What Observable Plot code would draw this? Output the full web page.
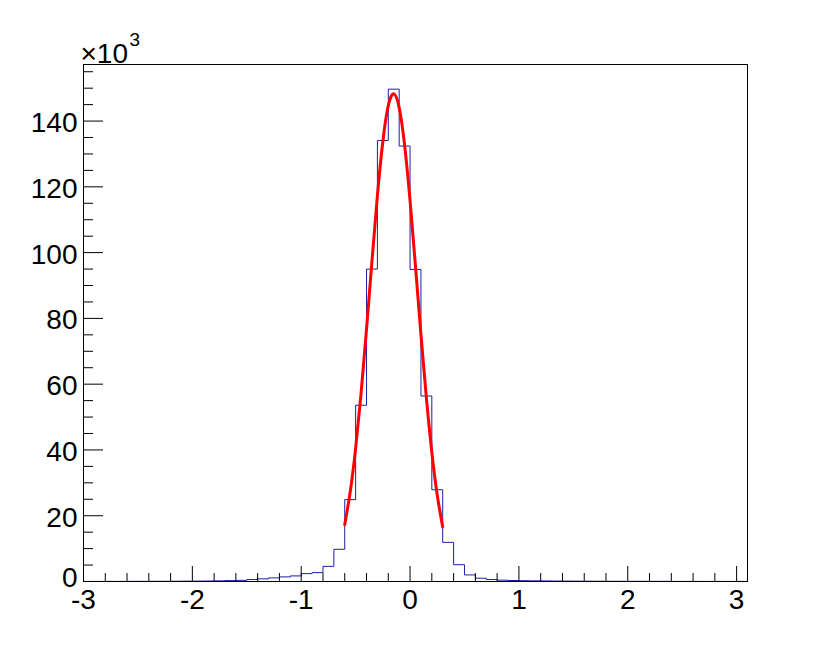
<!DOCTYPE html>
<html>
<head>
<meta charset="utf-8">
<script src="https://cdn.jsdelivr.net/npm/d3@7"></script>
<script src="https://cdn.jsdelivr.net/npm/@observablehq/plot@0.6"></script>
<style>
  body { margin: 0; background: #ffffff; }
  #chart svg { display: block; }
</style>
</head>
<body>
<div id="chart"></div>
<script>
// ---- data (counts in thousands) ----
const binStart = [
  -3.0, -2.9, -2.8, -2.7, -2.6, -2.5, -2.4, -2.3, -2.2, -2.1,
  -2.0, -1.9, -1.8, -1.7, -1.6, -1.5, -1.4, -1.3, -1.2, -1.1,
  -1.0, -0.9, -0.8, -0.7, -0.6, -0.5, -0.4, -0.3, -0.2, -0.1,
   0.0,  0.1,  0.2,  0.3,  0.4,  0.5,  0.6,  0.7,  0.8,  0.9,
   1.0,  1.1,  1.2,  1.3,  1.4,  1.5,  1.6,  1.7,  1.8,  1.9,
   2.0,  2.1,  2.2,  2.3,  2.4,  2.5,  2.6,  2.7,  2.8,  2.9,
   3.0
];
const binCounts = [
  0.02, 0.02, 0.03, 0.03, 0.04, 0.05, 0.06, 0.07, 0.08, 0.10,
  0.12, 0.15, 0.20, 0.28, 0.35, 0.60, 0.80, 1.10, 1.40, 1.70,
  2.40, 2.70, 4.60, 9.80, 24.9, 53.6, 95.0, 134.1, 149.7, 132.4,
  94.9, 56.4, 27.9, 11.9, 5.10, 2.00, 1.00, 0.60, 0.40, 0.30,
  0.25, 0.20, 0.17, 0.14, 0.12, 0.10, 0.09, 0.08, 0.07, 0.06,
  0.05, 0.05, 0.04, 0.04, 0.03, 0.03, 0.03, 0.02, 0.02, 0.02,
  0.02
];
const lastBinEnd = 3.1;

// red fit curve
const fitX = [-0.60, -0.55, -0.50, -0.45, -0.40, -0.35, -0.30, -0.25, -0.20, -0.15,
              -0.10, -0.05, 0.00, 0.05, 0.10, 0.15, 0.20, 0.25, 0.30];
const fitY = [17.3, 27.2, 40.5, 57.2, 76.7, 97.4, 117.3, 133.8, 144.7, 148.3,
              144.1, 132.7, 115.8, 95.8, 75.1, 55.8, 39.3, 26.2, 16.6];

const xDomain = [-3, 3.1];
const yDomain = [0, 157.2];
const xMajorTicks = [-3, -2, -1, 0, 1, 2, 3];
const xMinorTicks = [-2.8, -2.6, -2.4, -2.2, -1.8, -1.6, -1.4, -1.2, -0.8, -0.6, -0.4, -0.2,
                     0.2, 0.4, 0.6, 0.8, 1.2, 1.4, 1.6, 1.8, 2.2, 2.4, 2.6, 2.8];
const yMajorTicks = [0, 20, 40, 60, 80, 100, 120, 140];
const yMinorTicks = [5, 10, 15, 25, 30, 35, 45, 50, 55, 65, 70, 75, 85, 90, 95,
                     105, 110, 115, 125, 130, 135, 145, 150, 155];
const exponentBase = "×10";
const exponentPower = "3";

// ---- layout ----
const W = 830, H = 646;
const mL = 83, mR = 83, mT = 64, mB = 65;
const plotW = W - mL - mR, plotH = H - mT - mB;

const steps = binStart.map((x, i) => ({x, y: binCounts[i]}));
steps.push({x: lastBinEnd, y: binCounts[binCounts.length - 1]});
const fit = fitX.map((x, i) => ({x, y: fitY[i]}));

const chart = Plot.plot({
  width: W,
  height: H,
  marginLeft: mL,
  marginRight: mR,
  marginTop: mT,
  marginBottom: mB,
  style: {fontFamily: "'Liberation Sans', Arial, sans-serif", background: "#ffffff", color: "#000"},
  x: {domain: xDomain, label: null},
  y: {domain: yDomain, label: null},
  marks: [
    Plot.line(steps, {x: "x", y: "y", curve: "step-after", stroke: "#1e1ea8", strokeWidth: 1}),
    Plot.line(fit, {x: "x", y: "y", curve: "natural", stroke: "#ff0000", strokeWidth: 3}),
    Plot.frame({stroke: "#000", strokeWidth: 1}),
    // inward ticks
    Plot.tickY(yMajorTicks, {y: d => d, stroke: "#000", insetRight: plotW - 20}),
    Plot.tickY(yMinorTicks, {y: d => d, stroke: "#000", insetRight: plotW - 10}),
    Plot.tickX(xMajorTicks, {x: d => d, stroke: "#000", insetTop: plotH - 15}),
    Plot.tickX(xMinorTicks, {x: d => d, stroke: "#000", insetTop: plotH - 8}),
    // labels
    Plot.axisY({ticks: yMajorTicks.filter(d => d !== 0), tickSize: 0, tickPadding: 6, fontSize: 28, dy: 2,
                tickFormat: d => String(d), label: null}),
    Plot.axisY({ticks: yMajorTicks.filter(d => d === 0), tickSize: 0, tickPadding: 6, fontSize: 28, dy: -3,
                tickFormat: d => String(d), label: null}),
    Plot.axisX({ticks: xMajorTicks, tickSize: 0, tickPadding: 8, fontSize: 28,
                tickFormat: d => String(d), label: null}),
    Plot.text([exponentBase], {text: d => d, frameAnchor: "top-left", textAnchor: "start",
               lineAnchor: "bottom", dx: -3, dy: -1.5, fontSize: 28, fill: "#000"}),
    Plot.text([exponentPower], {text: d => d, frameAnchor: "top-left", textAnchor: "start",
               lineAnchor: "bottom", dx: 46, dy: -18.5, fontSize: 19, fill: "#000"})
  ]
});
document.getElementById("chart").appendChild(chart);
</script>
</body>
</html>
